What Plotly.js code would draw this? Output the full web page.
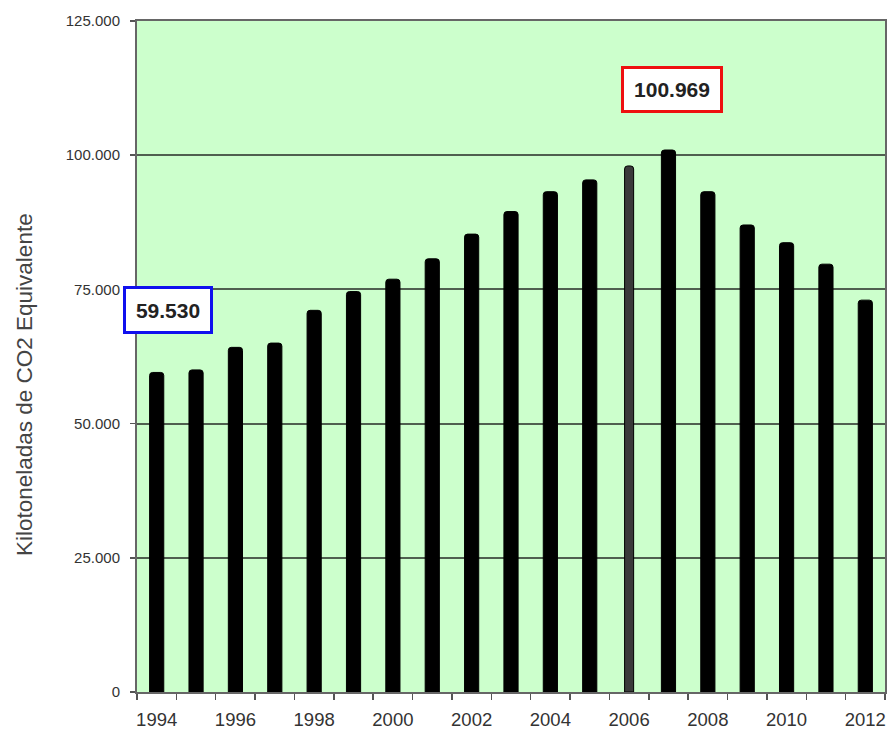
<!DOCTYPE html>
<html>
<head>
<meta charset="utf-8">
<script src="https://cdn.plot.ly/plotly-3.0.1.min.js"></script>
<style>html,body{margin:0;padding:0;background:#fff}#chart{width:890px;height:733px}</style>
</head>
<body>
<div id="chart"></div>
<script>
const years = [1994,1995,1996,1997,1998,1999,2000,2001,2002,2003,2004,2005,2006,2007,2008,2009,2010,2011,2012];
const emissions = [59530,60000,64200,65000,71100,74600,76900,80700,85300,89500,93200,95400,98000,100969,93200,87000,83700,79700,73000];
const yTicks = [0,25000,50000,75000,100000,125000];
const xLabelYears = [1994,1996,1998,2000,2002,2004,2006,2008,2010,2012];
const yTitle = 'Kilotoneladas de CO2 Equivalente';
const minLabel = '59.530';
const maxLabel = '100.969';

const thinYear = 2006;
const trace = {
  type: 'bar',
  x: years,
  y: emissions,
  width: years.map(y => y === thinYear ? 0.23 : 0.36),
  marker: {
    color: years.map(y => y === thinYear ? '#3a3a3a' : '#000000'),
    line: {color: '#000', width: 1},
    cornerradius: 3
  },
  hoverinfo: 'x+y'
};

const layout = {
  width: 890, height: 733,
  margin: {l: 137, r: 5, t: 21, b: 41},
  paper_bgcolor: '#ffffff',
  plot_bgcolor: '#ccffcc',
  separators: ',.',
  showlegend: false,
  font: {family: 'Arial, Liberation Sans, sans-serif', color: '#333'},
  xaxis: {
    type: 'linear',
    range: [years[0] - 0.5, years[years.length - 1] + 0.5],
    tickvals: xLabelYears,
    ticktext: xLabelYears.map(String),
    ticks: '',
    ticklabelstandoff: 10,
    tickfont: {size: 18.5, color: '#333'},
    showgrid: false,
    zeroline: false,
    showline: true, linecolor: '#666', linewidth: 2, mirror: true,
    minor: {tick0: years[0] - 0.5, dtick: 1, ticks: 'outside', ticklen: 6, tickcolor: '#555', tickwidth: 1.5, showgrid: false}
  },
  yaxis: {
    range: [0, 125000],
    tickvals: yTicks,
    tickformat: ',d',
    ticks: 'outside', ticklen: 5, tickcolor: '#555', tickwidth: 1.5,
    ticklabelstandoff: 7,
    tickfont: {size: 15, color: '#333'},
    showgrid: true, gridcolor: '#4f5f4f', gridwidth: 2,
    zeroline: false,
    showline: true, linecolor: '#666', linewidth: 2, mirror: true
  },
  annotations: [
    {
      text: yTitle, xref: 'paper', yref: 'paper', x: -0.151, y: 0.4575,
      textangle: -90, showarrow: false, xanchor: 'center', yanchor: 'middle',
      font: {size: 22.5, color: '#444'}
    },
    {
      text: '<b>' + minLabel + '</b>', xref: 'paper', yref: 'paper', x: 0.041, y: 0.570,
      showarrow: false, xanchor: 'center', yanchor: 'middle',
      bgcolor: '#ffffff', bordercolor: '#1010ee', borderwidth: 3, borderpad: 3,
      width: 78, height: 36,
      font: {size: 21, color: '#222'}
    },
    {
      text: '<b>' + maxLabel + '</b>', xref: 'paper', yref: 'paper', x: 0.715, y: 0.898,
      showarrow: false, xanchor: 'center', yanchor: 'middle',
      bgcolor: '#ffffff', bordercolor: '#ee1010', borderwidth: 3, borderpad: 3,
      width: 90, height: 35,
      font: {size: 21, color: '#222'}
    }
  ]
};

Plotly.newPlot('chart', [trace], layout, {displayModeBar: false, staticPlot: true});
</script>
</body>
</html>
